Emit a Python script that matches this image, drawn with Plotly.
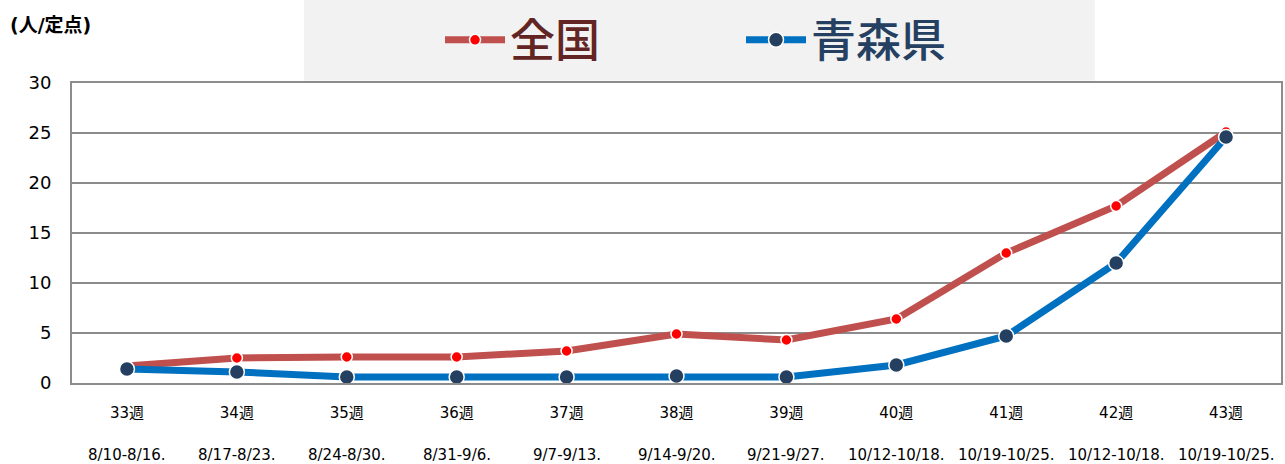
import plotly.graph_objects as go

weeks = ["33週", "34週", "35週", "36週", "37週", "38週", "39週", "40週", "41週", "42週", "43週"]
dates = ["8/10-8/16.", "8/17-8/23.", "8/24-8/30.", "8/31-9/6.", "9/7-9/13.", "9/14-9/20.",
         "9/21-9/27.", "10/12-10/18.", "10/19-10/25.", "10/12-10/18.", "10/19-10/25."]
zenkoku = [1.7, 2.5, 2.6, 2.6, 3.2, 4.9, 4.3, 6.4, 13.0, 17.7, 25.1]
aomori = [1.4, 1.1, 0.6, 0.6, 0.6, 0.7, 0.6, 1.8, 4.7, 12.0, 24.6]

FONT = "DejaVu Sans, Noto Sans CJK JP, sans-serif"
CJK = "Noto Sans CJK JP, sans-serif"
x = list(range(len(weeks)))

fig = go.Figure()
fig.add_trace(go.Scatter(
    x=x, y=zenkoku, mode="lines+markers",
    name="<span style='color:#632523'>全国</span>",
    line=dict(color="#c0504d", width=7),
    marker=dict(color="#ff0000", size=11, line=dict(color="white", width=1.5)),
))
fig.add_trace(go.Scatter(
    x=x, y=aomori, mode="lines+markers",
    name="<span style='color:#254061'>青森県</span>",
    line=dict(color="#0070c0", width=7),
    marker=dict(color="#243f60", size=15, line=dict(color="white", width=1.5)),
))

# legend background box
fig.add_shape(type="rect", xref="paper", yref="paper",
              x0=0.192, x1=0.846, y0=1.008, y1=1.28,
              fillcolor="#f2f2f2", line=dict(width=0), layer="below")

for i, d in enumerate(dates):
    fig.add_annotation(x=i, y=-0.24, xref="x", yref="paper", text=d, showarrow=False,
                       font=dict(family=FONT, size=15, color="#000000"),
                       xanchor="center", yanchor="middle")

fig.add_annotation(x=-0.053, y=1.193, xref="paper", yref="paper", text="<b>(人/定点)</b>",
                   showarrow=False, xanchor="left", yanchor="middle",
                   font=dict(family=FONT, size=19, color="#000000"))

fig.update_layout(
    width=1285, height=464,
    margin=dict(l=72, r=4, t=83, b=81, autoexpand=False),
    paper_bgcolor="white", plot_bgcolor="white",
    font=dict(family=FONT, color="#000000"),
    showlegend=True,
    legend=dict(orientation="h", x=0.3044, xanchor="left", y=1.143, yanchor="middle",
                bgcolor="rgba(0,0,0,0)", font=dict(family=CJK, size=45, weight=500),
                entrywidth=226, itemwidth=60, traceorder="normal"),
    xaxis=dict(range=[-0.5, 10.5], tickvals=x, ticktext=weeks, showgrid=False,
               showline=True, linecolor="#8c8c8c", linewidth=2, mirror=True,
               ticks="outside", ticklen=0, ticklabelstandoff=15, automargin=False,
               tickfont=dict(family=FONT, size=15, color="#000000"), zeroline=False),
    yaxis=dict(range=[0, 30], dtick=5, showgrid=True, gridcolor="#8c8c8c", gridwidth=1.5,
               showline=True, linecolor="#8c8c8c", linewidth=2, mirror=True,
               ticks="outside", ticklen=0, ticklabelstandoff=15, automargin=False,
               tickfont=dict(family=FONT, size=18, color="#000000"), zeroline=False),
)

fig.write_html("out.html", post_script="document.body.style.margin='0';",
               config={"displayModeBar": False})
